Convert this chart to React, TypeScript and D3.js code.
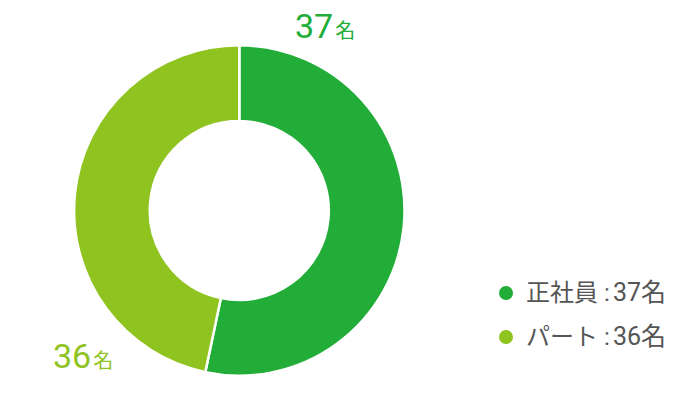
import React from 'react';
import * as d3 from 'd3';

const categories = ['正社員', 'パート'];
const values = [37, 36];
// slice shares as drawn in the reference (the ring is not split exactly 37:36)
const shares = [53.3, 46.7];
const colors = ['#22ac38', '#8fc31f'];
const unit = '名';

const W = 700;
const H = 410;
const cx = 239.3;
const cy = 210.5;
const outerR = 165.2;
const innerR = 89.5;
const numFont = 'Roboto, "Liberation Sans", Arial, sans-serif';
const jpFont = '"Noto Sans CJK JP", "Noto Sans", sans-serif';

const App: React.FC = () => {
  const pie = d3.pie<number>().sort(null).value(d => d);
  const arcs = pie(shares);
  const arc = d3.arc<d3.PieArcDatum<number>>().innerRadius(innerR).outerRadius(outerR);

  const labelPos = [
    { x: 295, y: 38 },
    { x: 53, y: 368 },
  ];

  return (
    <div style={{ position: 'absolute', left: 0, top: 0 }}>
      <svg width={W} height={H} viewBox={`0 0 ${W} ${H}`} style={{ display: 'block' }}>
        <g transform={`translate(${cx},${cy})`}>
          {arcs.map((a, i) => (
            <path key={i} d={arc(a) || ''} fill={colors[i]} stroke="#fff" strokeWidth={2.5} />
          ))}
        </g>
        {values.map((v, i) => (
          <text key={i} x={labelPos[i].x} y={labelPos[i].y} fill={colors[i]}>
            <tspan fontFamily={numFont} fontSize={34}>{v}</tspan>
            <tspan fontFamily={jpFont} fontSize={20} dx={2}>{unit}</tspan>
          </text>
        ))}
        <g fontSize={24} fill="#555">
          {categories.map((c, i) => (
            <g key={i} transform={`translate(506,${293 + i * 44})`}>
              <circle r={7} fill={colors[i]} />
              <text x={20} y={8} fontFamily={jpFont}>{c}</text>
              <text x={98} y={8} fontFamily={numFont} fontSize={24}>:</text>
              <text x={107} y={8}>
                <tspan fontFamily={numFont} fontSize={25}>{values[i]}</tspan>
                <tspan fontFamily={jpFont} fontSize={25}>{unit}</tspan>
              </text>
            </g>
          ))}
        </g>
      </svg>
    </div>
  );
};

export default App;
